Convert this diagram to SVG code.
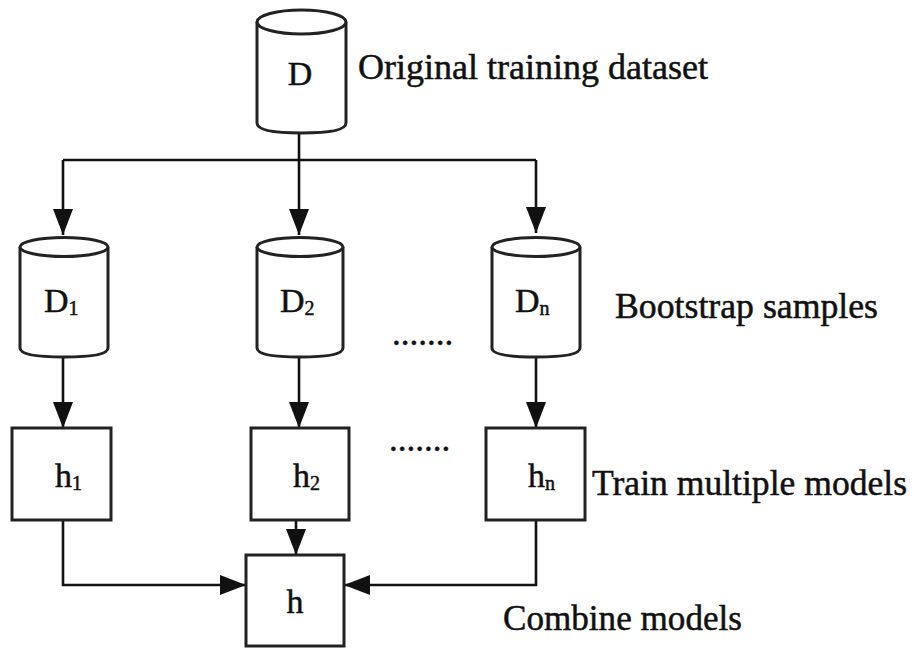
<svg xmlns="http://www.w3.org/2000/svg" width="914" height="648" viewBox="0 0 914 648">
<style>
.shape{fill:#fff;stroke:#222;stroke-width:3}
.line{fill:none;stroke:#111;stroke-width:2.6}
.lbl{font-family:"Liberation Serif","Times New Roman",serif;fill:#111;stroke:#111;stroke-width:0.5;font-size:35px}
.node{font-family:"Liberation Serif","Times New Roman",serif;fill:#111;stroke:#111;stroke-width:0.5;font-size:34px}
.sub{font-size:20px}
</style>
<defs>
<marker id="arr" markerUnits="userSpaceOnUse" markerWidth="28" markerHeight="22" refX="26" refY="10" orient="auto">
<path d="M0,0 L26,10 L0,20 z" fill="#111"/>
</marker>
</defs>
<rect width="914" height="648" fill="#fff"/>
<g id="connectors">
<path class="line" d="M299,133 V160"/>
<path class="line" d="M63,160 H536"/>
<path class="line" d="M63,160 V235" marker-end="url(#arr)"/>
<path class="line" d="M299,160 V235" marker-end="url(#arr)"/>
<path class="line" d="M536,160 V233" marker-end="url(#arr)"/>
<path class="line" d="M63,357 V428" marker-end="url(#arr)"/>
<path class="line" d="M299,357 V428" marker-end="url(#arr)"/>
<path class="line" d="M536,357 V428" marker-end="url(#arr)"/>
<path class="line" d="M63,520 V585 H246" marker-end="url(#arr)"/>
<path class="line" d="M296,520 V555" marker-end="url(#arr)"/>
<path class="line" d="M536,520 V585 H344" marker-end="url(#arr)"/>
</g>
<g id="node-D">
<path class="shape" d="M257,22 V123 Q257,133 301.5,133 Q346,133 346,123 V22"/>
<ellipse class="shape" cx="301.5" cy="22" rx="44.5" ry="12"/>
<text class="node" x="300" y="85" text-anchor="middle">D</text>
</g>
<g id="node-D1">
<path class="shape" d="M20,247 V348 Q20,357 64,357 Q108,357 108,348 V247"/>
<ellipse class="shape" cx="64" cy="247" rx="44" ry="9.5"/>
<text class="node" x="44" y="312">D<tspan class="sub" dy="3">1</tspan></text>
</g>
<g id="node-D2">
<path class="shape" d="M257,247 V348 Q257,357 300,357 Q343,357 343,348 V247"/>
<ellipse class="shape" cx="300" cy="247" rx="43" ry="9.5"/>
<text class="node" x="280" y="312">D<tspan class="sub" dy="3">2</tspan></text>
</g>
<g id="node-Dn">
<path class="shape" d="M492,247 V348 Q492,357 536,357 Q580,357 580,348 V247"/>
<ellipse class="shape" cx="536" cy="247" rx="44" ry="9.5"/>
<text class="node" x="515" y="312">D<tspan class="sub" dy="3">n</tspan></text>
</g>
<g id="node-h1">
<rect class="shape" x="12" y="428" width="99" height="92"/>
<text class="node" x="55" y="487">h<tspan class="sub" dy="3">1</tspan></text>
</g>
<g id="node-h2">
<rect class="shape" x="251" y="428" width="98" height="92"/>
<text class="node" x="293" y="487">h<tspan class="sub" dy="3">2</tspan></text>
</g>
<g id="node-hn">
<rect class="shape" x="486" y="428" width="99" height="92"/>
<text class="node" x="528" y="487">h<tspan class="sub" dy="3">n</tspan></text>
</g>
<g id="node-h">
<rect class="shape" x="246" y="555" width="98" height="91"/>
<text class="node" x="295" y="613" text-anchor="middle">h</text>
</g>
<g id="labels">
<text class="lbl" x="358" y="79" textLength="350" lengthAdjust="spacingAndGlyphs">Original training dataset</text>
<text class="lbl" x="615" y="318" textLength="263" lengthAdjust="spacingAndGlyphs">Bootstrap samples</text>
<text class="lbl" x="592" y="495" textLength="315" lengthAdjust="spacingAndGlyphs">Train multiple models</text>
<text class="lbl" x="503" y="630" textLength="239" lengthAdjust="spacingAndGlyphs">Combine models</text>
<text class="lbl" x="392" y="345">.......</text>
<text class="lbl" x="389" y="451">.......</text>
</g>
</svg>
